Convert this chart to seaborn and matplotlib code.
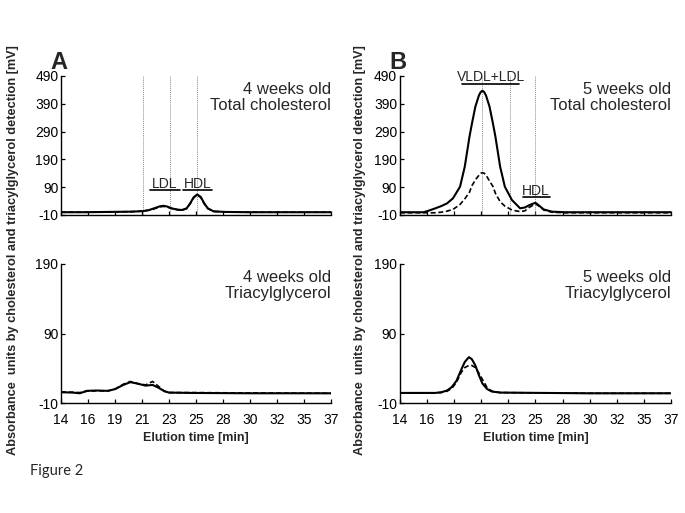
import matplotlib
matplotlib.use("Agg")
import matplotlib.pyplot as plt
import seaborn as sns

sns.set_theme(style="ticks")
plt.rcParams.update({
    'font.family': ['Liberation Sans', 'DejaVu Sans'],
    'axes.edgecolor': 'black',
    'axes.linewidth': 1.0,
    'xtick.direction': 'in',
    'ytick.direction': 'in',
    'xtick.color': 'black',
    'ytick.color': 'black',
})

# x axis: Excel-style evenly spaced ticks with rounded labels
XTICKS = [14, 16.3, 18.6, 20.9, 23.2, 25.5, 27.8, 30.1, 32.4, 34.7, 37]
XTICKLABELS = ["14", "16", "19", "21", "23", "25", "28", "30", "32", "35", "37"]
TC_YTICKS = [-10, 90, 190, 290, 390, 490]
TG_YTICKS = [-10, 90, 190]

# Panel A, 4 weeks old, total cholesterol
A_TC_X = [14, 16, 18, 20, 21, 21.5, 22, 22.4, 22.7, 23, 23.5, 24, 24.3, 24.7,
          25, 25.3, 25.6, 25.9, 26.2, 26.5, 27, 28, 30, 37]
A_TC_SOLID = [0, 0, 1, 2, 4, 8, 15, 21, 23, 21, 13, 9, 8, 14,
              32, 54, 64, 55, 32, 14, 3, 1, 0, 0]
A_TC_DASH = [0, 0, 1, 2, 4, 7, 13, 19, 21, 19, 12, 8, 7, 13,
             30, 52, 62, 53, 30, 13, 3, 1, 0, 0]

# Panel A, 4 weeks old, triacylglycerol
A_TG_X = [14, 15, 15.6, 16.2, 17, 18, 18.6, 19.3, 19.9, 20.5, 21.2, 21.8,
          22.3, 22.8, 23.2, 25, 30, 37]
A_TG_SOLID = [5.5, 5, 4, 7.5, 8, 7.5, 10, 16, 20, 18, 15, 16,
              12, 7, 5, 4.5, 4, 4]
A_TG_DASH = [6, 5.5, 5, 7, 7.5, 7.5, 10, 17, 21, 18, 16, 21,
             14, 7, 5, 5, 4.5, 4]

# Panel B, 5 weeks old, total cholesterol
B_TC_X = [14, 16, 16.4, 17.0, 17.5, 18.0, 18.5, 19.1, 19.5, 19.9, 20.1, 20.4,
          20.7, 20.85, 21.0, 21.15, 21.3, 21.6, 21.9, 22.1, 22.5, 22.9, 23.5,
          24.2, 24.6, 25.0, 25.5, 25.8, 26.2, 26.9, 28, 37]
B_TC_SOLID = [0, 0, 5, 14, 22, 32, 50, 92, 164, 272, 317, 380,
              420, 432, 437, 432, 420, 380, 317, 272, 164, 92, 44,
              14, 17, 26, 34, 24, 10, 2, 0, 0]
B_TC_DASH = [-2, -2, -2, -2, 0, 4, 10, 28, 48, 72, 95, 116,
             133, 140, 142, 140, 134, 112, 92, 68, 38, 22, 8,
             2, 5, 18, 30, 22, 8, 0, -2, -2]

# Panel B, 5 weeks old, triacylglycerol
B_TG_X = [14, 16, 17.0, 17.5, 18.0, 18.4, 18.8, 19.2, 19.5, 19.85, 20.1,
          20.4, 20.7, 21.0, 21.4, 21.8, 22.5, 30, 37]
B_TG_SOLID = [4.5, 4.5, 4.5, 5.5, 8, 13, 22, 38, 49, 56, 53,
              44, 30, 18, 10, 6.5, 5, 4, 4]
B_TG_DASH = [4.5, 4.5, 4.5, 5, 7, 11, 20, 34, 41, 44, 44,
             41, 33, 24, 12, 7, 5, 4, 4]

A_VLINES = [21.0, 23.3, 25.6]
B_VLINES = [21.0, 23.3, 25.5]

YLABEL = "Absorbance  units by cholesterol and triacylglycerol detection [mV]"


def draw(ax, x, solid, dash, yticks, show_xlabels):
    sns.lineplot(x=x, y=solid, ax=ax, color="black", linewidth=1.5,
                 estimator=None, sort=False)
    sns.lineplot(x=x, y=dash, ax=ax, color="black", linewidth=1.2,
                 estimator=None, sort=False, linestyle=(0, (3, 1.6)))
    ax.set_xlim(14, 37)
    ax.set_ylim(yticks[0], yticks[-1])
    ax.set_xticks(XTICKS)
    ax.set_yticks(yticks)
    ax.set_yticklabels([str(t) for t in yticks])
    if show_xlabels:
        ax.set_xticklabels(XTICKLABELS)
    else:
        ax.set_xticklabels([])
    ax.tick_params(axis="both", length=3, width=0.9, labelsize=10)
    ax.tick_params(axis="x", pad=7)
    ax.tick_params(axis="y", pad=2)
    ax.set_xlabel("")
    ax.set_ylabel("")
    sns.despine(ax=ax)
    ax.margins(0)


def corner_text(ax, txt):
    ax.text(1.0, 0.96, txt, transform=ax.transAxes, ha="right", va="top",
            fontsize=12, linespacing=1.15)


def bracket(ax, x0, x1, y_bar, label, y_text):
    ax.plot([x0, x1], [y_bar, y_bar], color="black", lw=1.2, clip_on=False)
    ax.text((x0 + x1) / 2, y_text, label, ha="center", va="center",
            fontsize=10, clip_on=False)


fig = plt.figure(figsize=(6.85, 5.13), dpi=100)
ax_a1 = fig.add_axes([0.0891, 0.5809, 0.3942, 0.2710])
ax_b1 = fig.add_axes([0.5839, 0.5809, 0.3956, 0.2710])
ax_a2 = fig.add_axes([0.0891, 0.2144, 0.3942, 0.2710])
ax_b2 = fig.add_axes([0.5839, 0.2144, 0.3956, 0.2710])

for xv in A_VLINES:
    ax_a1.axvline(xv, color="#8c8c8c", lw=0.7, linestyle=(0, (1, 1)))
for xv in B_VLINES:
    ax_b1.axvline(xv, color="#8c8c8c", lw=0.7, linestyle=(0, (1, 1)))

draw(ax_a1, A_TC_X, A_TC_SOLID, A_TC_DASH, TC_YTICKS, False)
draw(ax_b1, B_TC_X, B_TC_SOLID, B_TC_DASH, TC_YTICKS, False)
draw(ax_a2, A_TG_X, A_TG_SOLID, A_TG_DASH, TG_YTICKS, True)
draw(ax_b2, B_TG_X, B_TG_SOLID, B_TG_DASH, TG_YTICKS, True)

corner_text(ax_a1, "4 weeks old\nTotal cholesterol")
corner_text(ax_b1, "5 weeks old\nTotal cholesterol")
corner_text(ax_a2, "4 weeks old\nTriacylglycerol")
corner_text(ax_b2, "5 weeks old\nTriacylglycerol")

bracket(ax_a1, 21.6, 24.1, 80, "LDL", 102)
bracket(ax_a1, 24.4, 26.9, 80, "HDL", 102)
bracket(ax_b1, 19.3, 24.1, 460, "VLDL+LDL", 486)
bracket(ax_b1, 24.4, 26.7, 55, "HDL", 77)

fig.text(0.073, 0.866, "A", fontsize=17, fontweight="bold")
fig.text(0.569, 0.866, "B", fontsize=17, fontweight="bold")

for xc in (13 / 685, 360 / 685):
    fig.text(xc, 0.513, YLABEL, rotation=90, ha="center", va="center",
             fontsize=9.2, fontweight="bold")
for xc in (196 / 685, 535.5 / 685):
    fig.text(xc, 0.146, "Elution time [min]", ha="center", va="center",
             fontsize=9, fontweight="bold")

fig.text(30 / 685, 1 - 471 / 513, "Figure 2", fontsize=10.5,
         family=["Lato", "DejaVu Sans"], va="center")

fig.savefig("out.png", dpi=100, facecolor="white")
